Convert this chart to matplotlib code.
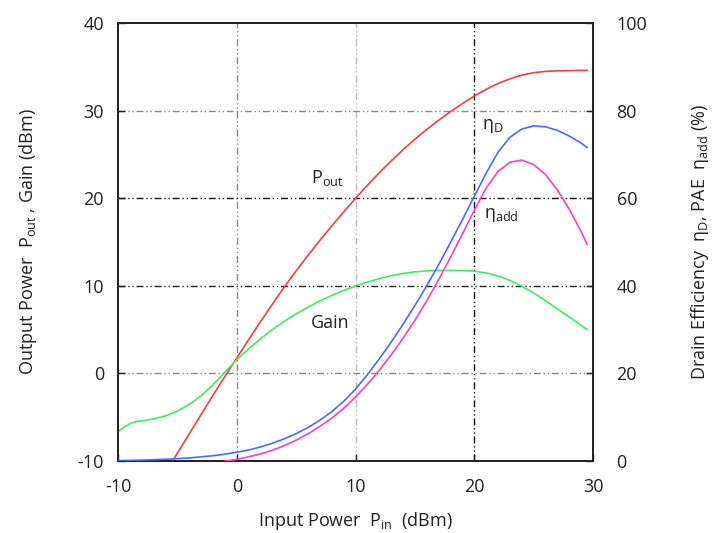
import matplotlib
matplotlib.use("Agg")
import matplotlib.pyplot as plt

plt.rcParams["font.family"] = ["Open Sans", "DejaVu Sans"]
plt.rcParams["mathtext.fontset"] = "custom"
plt.rcParams["mathtext.rm"] = "Open Sans"
plt.rcParams["mathtext.it"] = "Open Sans"
plt.rcParams["mathtext.default"] = "regular"
plt.rcParams["axes.unicode_minus"] = False

# Output power vs input power (dBm)
pin_pout = [-5.4, -4, -3, -2, -1, 0, 1, 2, 3, 4, 5, 6, 7, 8, 9, 10, 11, 12, 13, 14,
            15, 16, 17, 18, 19, 20, 21, 22, 23, 24, 25, 26, 27, 28, 29.5]
pout = [-10, -6.9, -4.7, -2.5, -0.35, 1.75, 3.85, 5.9, 7.9, 9.85, 11.7, 13.48, 15.18,
        16.83, 18.43, 19.98, 21.48, 22.9, 24.25, 25.53, 26.73, 27.85, 28.9, 29.88, 30.8,
        31.65, 32.43, 33.09, 33.63, 34.05, 34.33, 34.48, 34.54, 34.57, 34.6]

# Gain (dB)
pin_gain = [-10, -9.5, -9, -8.5, -8, -7, -6, -5, -4, -3, -2, -1, 0, 1, 2, 3, 4, 5, 6, 7,
            8, 9, 10, 11, 12, 13, 14, 15, 16, 17, 18, 19, 20, 21, 22, 23, 24, 25, 26,
            27, 28, 29, 29.5]
gain = [-6.65, -6.15, -5.75, -5.5, -5.42, -5.2, -4.85, -4.3, -3.55, -2.55, -1.3, 0.15,
        1.55, 2.8, 3.95, 5.0, 5.95, 6.8, 7.57, 8.27, 8.9, 9.47, 9.97, 10.42, 10.82, 11.15,
        11.41, 11.59, 11.7, 11.75, 11.76, 11.74, 11.67, 11.47, 11.12, 10.62, 9.97, 9.19,
        8.31, 7.36, 6.44, 5.49, 5.01]

# Drain efficiency (%)
pin_eta = [-10, -8, -6, -4, -2, -1, 0, 1, 2, 3, 4, 5, 6, 7, 8, 9, 10, 11, 12, 13, 14,
           15, 16, 17, 18, 19, 20, 21, 22, 23, 24, 25, 26, 27, 28, 29, 29.5]
eta_d = [0.1, 0.2, 0.4, 0.7, 1.2, 1.55, 2.0, 2.5, 3.2, 4.05, 5.05, 6.25, 7.65, 9.3, 11.25,
         13.6, 16.4, 19.7, 23.3, 27.1, 31.2, 35.5, 40.0, 44.8, 49.9, 55.1, 60.4, 65.7,
         70.5, 73.9, 75.8, 76.5, 76.3, 75.5, 74.2, 72.6, 71.6]

# Power-added efficiency (%)
pin_pae = [-1.0, 0, 1, 2, 3, 4, 5, 6, 7, 8, 9, 10, 11, 12, 13, 14, 15, 16, 17, 18, 19,
           20, 21, 22, 23, 24, 25, 26, 27, 28, 29, 29.5]
eta_add = [0, 0.35, 0.95, 1.6, 2.45, 3.5, 4.75, 6.2, 7.9, 9.8, 12.0, 14.6, 17.5, 20.7,
           24.2, 28.0, 32.1, 36.6, 41.4, 46.5, 51.8, 57.2, 62.3, 66.1, 68.2, 68.7, 67.7,
           65.4, 61.9, 57.5, 52.4, 49.5]

x_ticks = [-10, 0, 10, 20, 30]
left_ticks = [-10, 0, 10, 20, 30, 40]
right_ticks = [0, 20, 40, 60, 80, 100]

fig = plt.figure(figsize=(7.13, 5.33), dpi=100)
ax = fig.add_axes([0.1655, 0.1351, 0.6662, 0.8217])
ax2 = ax.twinx()

ax.set_xlim(-10, 30)
ax.set_ylim(-10, 40)
ax2.set_ylim(0, 100)

# grid lines in dash-dot-dot style
dd = (0, (5, 2, 1, 2, 1, 2))
grid_x = [(0, "#888888"), (10, "#bbbbbb"), (20, "#111111")]
grid_y = [(0, "#888888"), (10, "#222222"), (20, "#111111"), (30, "#888888")]
for gx, c in grid_x:
    ax.axvline(gx, color=c, lw=1.0, linestyle=dd, zorder=1)
for gy, c in grid_y:
    ax.axhline(gy, color=c, lw=1.0, linestyle=dd, zorder=1)

ax.plot(pin_pout, pout, color="#ff3b3b", lw=1.2, zorder=3)
ax.plot(pin_gain, gain, color="#3ef05a", lw=1.2, zorder=3)
ax2.plot(pin_eta, eta_d, color="#4a6bff", lw=1.2, zorder=3)
ax2.plot(pin_pae, eta_add, color="#ff3ccf", lw=1.2, zorder=3)

ax.set_xticks(x_ticks)
ax.set_yticks(left_ticks)
ax2.set_yticks(right_ticks)

for a in (ax, ax2):
    a.tick_params(direction="in", length=5, width=1, labelsize=13, colors="#222222")
    for s in a.spines.values():
        s.set_linewidth(1.3)
        s.set_color("#222222")
ax.tick_params(axis="x", pad=12)
ax.tick_params(axis="y", pad=10)
ax2.tick_params(axis="y", pad=17)

ax.set_xlabel("Input Power  P$_{in}$  (dBm)", fontsize=13, color="#222222", labelpad=10)
ax.set_ylabel("Output Power  P$_{out}$ , Gain (dBm)", fontsize=13, color="#222222", labelpad=28)
ax2.set_ylabel("Drain Efficiency  η$_{D}$, PAE  η$_{add}$ (%)", fontsize=13, color="#222222", labelpad=30)

ax.text(7.6, 22.3, "P$_{out}$", fontsize=13, color="#222222", ha="center", va="center")
ax.text(7.85, 5.8, "Gain", fontsize=13, color="#222222", ha="center", va="center")
ax.text(21.6, 28.2, "η$_{D}$", fontsize=13, color="#222222", ha="center", va="center")
ax.text(22.3, 18.1, "η$_{add}$", fontsize=13, color="#222222", ha="center", va="center")

fig.savefig("out.png", dpi=100)
